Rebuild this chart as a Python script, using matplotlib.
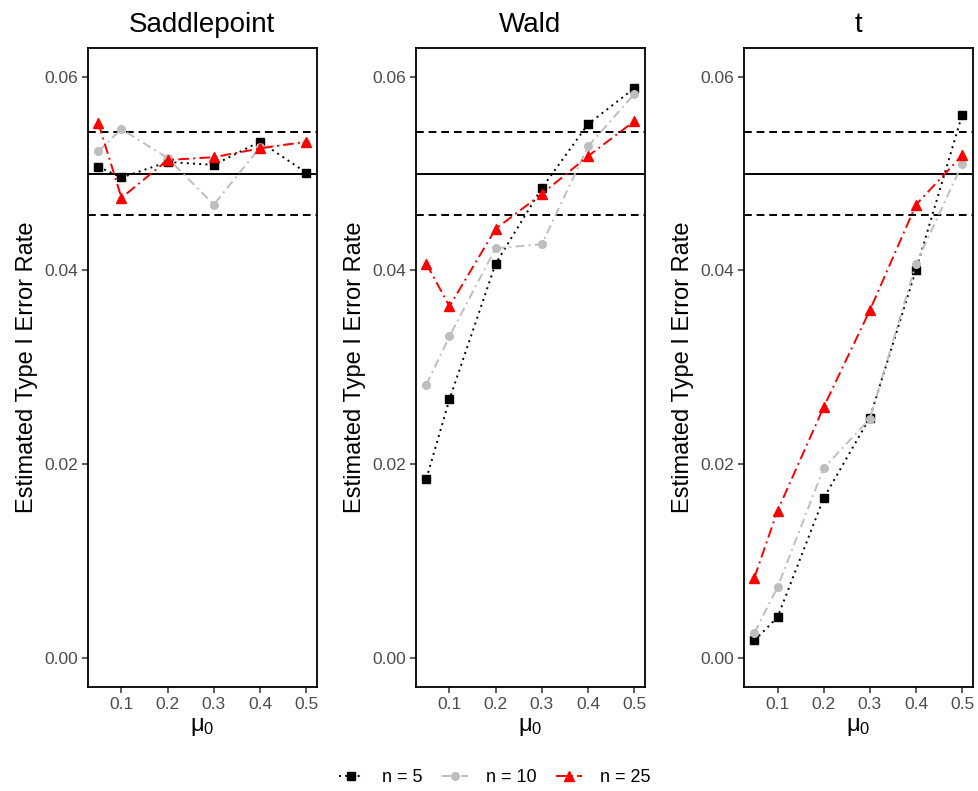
import numpy as np
import matplotlib.pyplot as plt
from matplotlib.lines import Line2D

plt.rcParams['font.family'] = ['Liberation Sans', 'DejaVu Sans']

mu0 = [0.05, 0.1, 0.2, 0.3, 0.4, 0.5]
methods = ["Saddlepoint", "Wald", "t"]
n_labels = ["n = 5", "n = 10", "n = 25"]

# estimated type I error rates
saddle_n5 = [0.0507, 0.0496, 0.0512, 0.0509, 0.0533, 0.0501]
saddle_n10 = [0.0523, 0.0546, 0.0516, 0.0468, 0.0527, 0.0532]
saddle_n25 = [0.0552, 0.0475, 0.0514, 0.0517, 0.0526, 0.0533]
wald_n5 = [0.0185, 0.0267, 0.0407, 0.0485, 0.0551, 0.0588]
wald_n10 = [0.0282, 0.0332, 0.0423, 0.0427, 0.0528, 0.0582]
wald_n25 = [0.0407, 0.0363, 0.0443, 0.0479, 0.0518, 0.0554]
t_n5 = [0.0018, 0.0042, 0.0165, 0.0248, 0.0401, 0.0561]
t_n10 = [0.0026, 0.0073, 0.0196, 0.0247, 0.0407, 0.0510]
t_n25 = [0.0083, 0.0152, 0.0259, 0.0359, 0.0468, 0.0519]

nominal = 0.05
band = [0.0457, 0.0543]

series = {
    "Saddlepoint": [saddle_n5, saddle_n10, saddle_n25],
    "Wald": [wald_n5, wald_n10, wald_n25],
    "t": [t_n5, t_n10, t_n25],
}

colors = ["black", "#BEBEBE", "#FF0000"]
markers = ["s", "o", "^"]
msizes = [6, 5.5, 7]
styles = [(0, (1, 2.2)), (0, (4.5, 2.2, 1, 2.2)), (0, (5.5, 2.2, 1, 2.2))]

fig = plt.figure(figsize=(9.79, 7.91), dpi=100)
lefts = [0.0899, 0.4249, 0.7600]
width = 0.2335
bottom, top = 0.1315, 0.9397

for i, m in enumerate(methods):
    ax = fig.add_axes([lefts[i], bottom, width, top - bottom])
    ax.axhline(nominal, color="black", lw=1.4, zorder=1)
    for b in band:
        ax.axhline(b, color="black", lw=1.4, ls=(0, (4, 2.5)), zorder=1)
    for k in range(3):
        ax.plot(mu0, series[m][k], color=colors[k], ls=styles[k], lw=1.4,
                marker=markers[k], ms=msizes[k], zorder=2 + k)
    ax.set_xlim(0.0275, 0.5225)
    ax.set_ylim(-0.003, 0.063)
    ax.set_xticks([0.1, 0.2, 0.3, 0.4, 0.5])
    ax.set_yticks([0.0, 0.02, 0.04, 0.06])
    ax.set_yticklabels(["0.00", "0.02", "0.04", "0.06"])
    ax.tick_params(labelsize=12.5, labelcolor="#4D4D4D", color="#333333",
                   length=4, width=1.1, pad=3)
    for s in ax.spines.values():
        s.set_linewidth(1.3)
    ax.set_title(m, fontsize=20, pad=11)
    ax.set_xlabel(r"$\mathregular{\mu_0}$", fontsize=17, labelpad=3)
    ax.set_ylabel("Estimated Type I Error Rate", fontsize=17, labelpad=5)

handles = [Line2D([], [], color=colors[k], ls=styles[k], lw=1.4,
                  marker=markers[k], ms=msizes[k]) for k in range(3)]
fig.legend(handles, n_labels, loc="lower center", bbox_to_anchor=(0.505, -0.014),
           ncol=3, frameon=False, fontsize=13, handlelength=1.4,
           columnspacing=1.1, handletextpad=1.0)

fig.savefig("out.png", dpi=100)
